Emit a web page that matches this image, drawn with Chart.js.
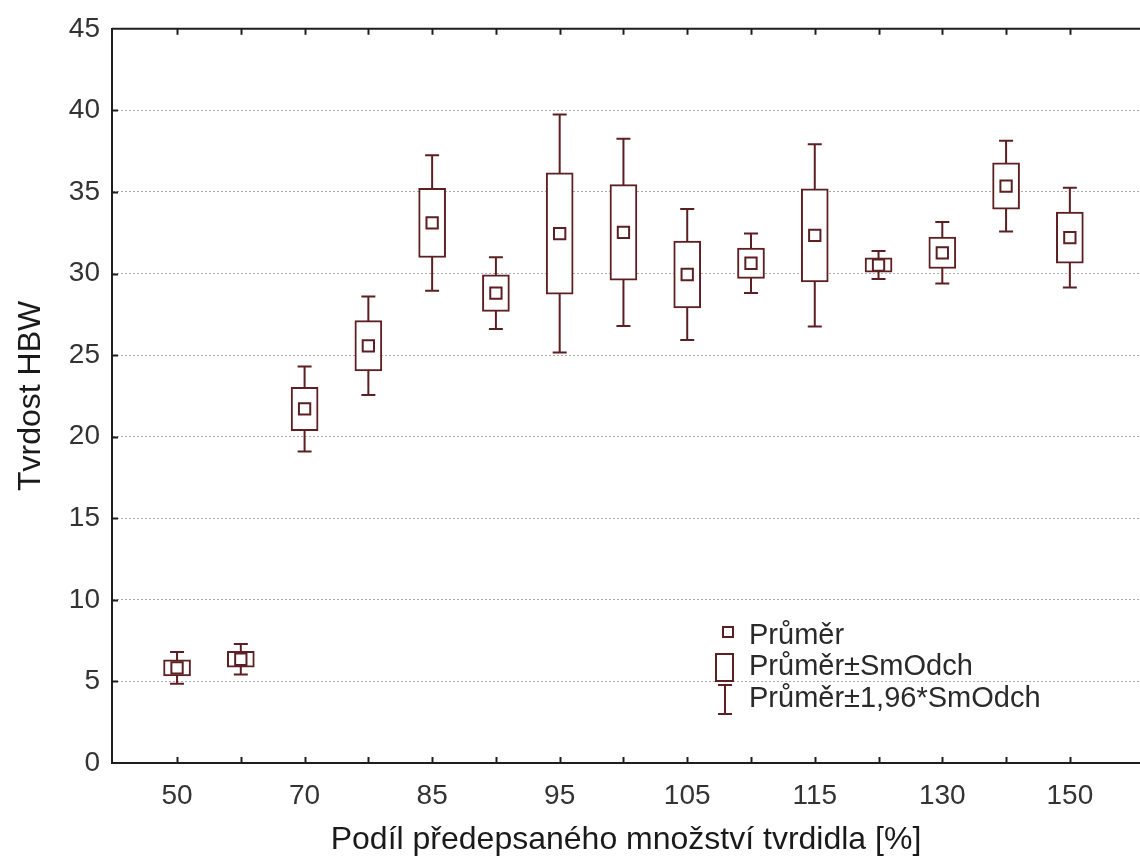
<!DOCTYPE html>
<html>
<head>
<meta charset="utf-8">
<title>Tvrdost HBW</title>
<script src="https://cdn.jsdelivr.net/npm/chart.js@4/dist/chart.umd.min.js"></script>
<style>
  html, body { margin: 0; padding: 0; background: #fff; overflow: hidden; }
  #wrap { width: 1140px; height: 863px; position: relative; }
</style>
</head>
<body>
<div id="wrap"><canvas id="graph_hbw"></canvas></div>
<script>
// podíl tvrdidla [%]
const categories = ['50', '60', '70', '80', '85', '90', '95', '100', '105', '110', '115', '120', '130', '140', '150'];
// průměr a směrodatná odchylka tvrdosti HBW
const means = [5.83, 6.36, 21.7, 25.57, 33.1, 28.8, 32.45, 32.52, 29.94, 30.63, 32.34, 30.52, 31.27, 35.36, 32.2];
const sds = [0.50, 0.48, 1.33, 1.54, 2.12, 1.12, 3.72, 2.93, 2.05, 0.93, 2.85, 0.44, 0.96, 1.42, 1.56];
const yTicks = [0, 5, 10, 15, 20, 25, 30, 35, 40, 45];

const legendLabels = ['Průměr', 'Průměr±SmOdch', 'Průměr±1,96*SmOdch'];

const boxColor = '#5c1f22';
const frameColor = '#1e1e1e';
const FONT = '"Liberation Sans", Arial, sans-serif';

const boxData = categories.map((c, i) => ({ x: i, y: [means[i] - sds[i], means[i] + sds[i]] }));
const meanData = categories.map((c, i) => ({ x: i, y: means[i] }));

// vousy (±1,96*SmOdch), rám a legenda
const boxPlotExtras = {
	id: 'boxPlotExtras',
	beforeDatasetsDraw(chart) {
		const { ctx, scales: { x, y } } = chart;
		ctx.save();
		ctx.strokeStyle = boxColor;
		ctx.lineWidth = 2;
		categories.forEach((c, i) => {
			const px = x.getPixelForValue(i);
			const top = y.getPixelForValue(means[i] + 1.96 * sds[i]);
			const bot = y.getPixelForValue(means[i] - 1.96 * sds[i]);
			ctx.beginPath();
			ctx.moveTo(px, top); ctx.lineTo(px, bot);
			ctx.moveTo(px - 7, top); ctx.lineTo(px + 7, top);
			ctx.moveTo(px - 7, bot); ctx.lineTo(px + 7, bot);
			ctx.stroke();
		});
		ctx.restore();
	},
	afterDraw(chart) {
		const { ctx, chartArea: a, scales: { x, y } } = chart;
		ctx.save();
		ctx.strokeStyle = frameColor;
		ctx.lineWidth = 2;
		ctx.beginPath();
		ctx.moveTo(a.left, a.top); ctx.lineTo(chart.width, a.top);
		ctx.stroke();
		// ticks pointing inwards
		ctx.beginPath();
		categories.forEach((c, i) => {
			const px = Math.round(x.getPixelForValue(i)) + 0.5;
			ctx.moveTo(px, a.top); ctx.lineTo(px, a.top + 6);
			ctx.moveTo(px, a.bottom); ctx.lineTo(px, a.bottom - 6);
		});
		yTicks.slice(1, -1).forEach(v => {
			const py = Math.round(y.getPixelForValue(v)) + 0.5;
			ctx.moveTo(a.left, py); ctx.lineTo(a.left + 6, py);
		});
		ctx.stroke();

		// legenda
		ctx.strokeStyle = boxColor;
		ctx.lineWidth = 2;
		ctx.strokeRect(723, 627, 10, 10);
		ctx.strokeRect(716, 654, 17, 27);
		ctx.beginPath();
		ctx.moveTo(725, 685); ctx.lineTo(725, 714);
		ctx.moveTo(718, 685); ctx.lineTo(732, 685);
		ctx.moveTo(718, 714); ctx.lineTo(732, 714);
		ctx.stroke();
		ctx.fillStyle = '#2a2a2a';
		ctx.font = '29px ' + FONT;
		ctx.textBaseline = 'middle';
		ctx.fillText(legendLabels[0], 749, 636);
		ctx.fillText(legendLabels[1], 749, 667);
		ctx.fillText(legendLabels[2], 749, 699);
		ctx.restore();
	}
};

const ctx = document.getElementById('graph_hbw');
const myChart = new Chart(ctx, {
	type: 'bar',
	data: {
		datasets: [
			{
				type: 'scatter',
				label: legendLabels[0],
				data: meanData,
				pointStyle: 'rect',
				pointRadius: 8,
				pointBackgroundColor: '#fff',
				pointBorderColor: boxColor,
				pointBorderWidth: 2,
				order: 0
			},
			{
				label: legendLabels[1],
				data: boxData,
				backgroundColor: '#fff',
				borderColor: boxColor,
				borderWidth: 2,
				borderSkipped: false,
				barThickness: 27,
				order: 1
			}
		]
	},
	options: {
		responsive: true,
		maintainAspectRatio: false,
		animation: false,
		events: [],
		layout: { autoPadding: false, padding: { top: 26, right: 0, left: 0, bottom: 0 } },
		plugins: {
			legend: { display: false },
			tooltip: { enabled: false }
		},
		scales: {
			x: {
				type: 'linear',
				offset: false,
				min: -1.02,
				max: 15.1,
				afterBuildTicks: scale => {
					scale.ticks = categories.map((c, i) => ({ value: i }));
				},
				afterFit: scale => { scale.height = 100; },
				ticks: {
					autoSkip: false,
					maxRotation: 0,
					padding: 16,
					color: '#333',
					font: { family: FONT, size: 28 },
					callback: v => (v % 2 === 0 ? categories[v] : '')
				},
				grid: { display: false, drawTicks: false, offset: false },
				border: { display: true, color: frameColor, width: 2 },
				title: {
					display: true,
					text: 'Podíl předepsaného množství tvrdidla [%]',
					color: '#1a1a1a',
					font: { family: FONT, size: 32 },
					padding: { top: 3 }
				}
			},
			y: {
				min: 0,
				max: 45,
				afterBuildTicks: scale => {
					scale.ticks = yTicks.map(v => ({ value: v }));
				},
				afterFit: scale => { scale.width = 112; },
				ticks: {
					padding: 12,
					color: '#333',
					font: { family: FONT, size: 28 }
				},
				grid: {
					drawTicks: false,
					lineWidth: 1,
					color: c => (c.tick && (c.tick.value === 0 || c.tick.value === 45)) ? 'rgba(0,0,0,0)' : '#ababab'
				},
				border: { display: true, color: frameColor, width: 2, dash: [2, 2] },
				title: {
					display: true,
					text: 'Tvrdost HBW',
					color: '#1a1a1a',
					font: { family: FONT, size: 32 },
					padding: { top: 12, bottom: 4 }
				}
			}
		}
	},
	plugins: [boxPlotExtras]
});
</script>
</body>
</html>
